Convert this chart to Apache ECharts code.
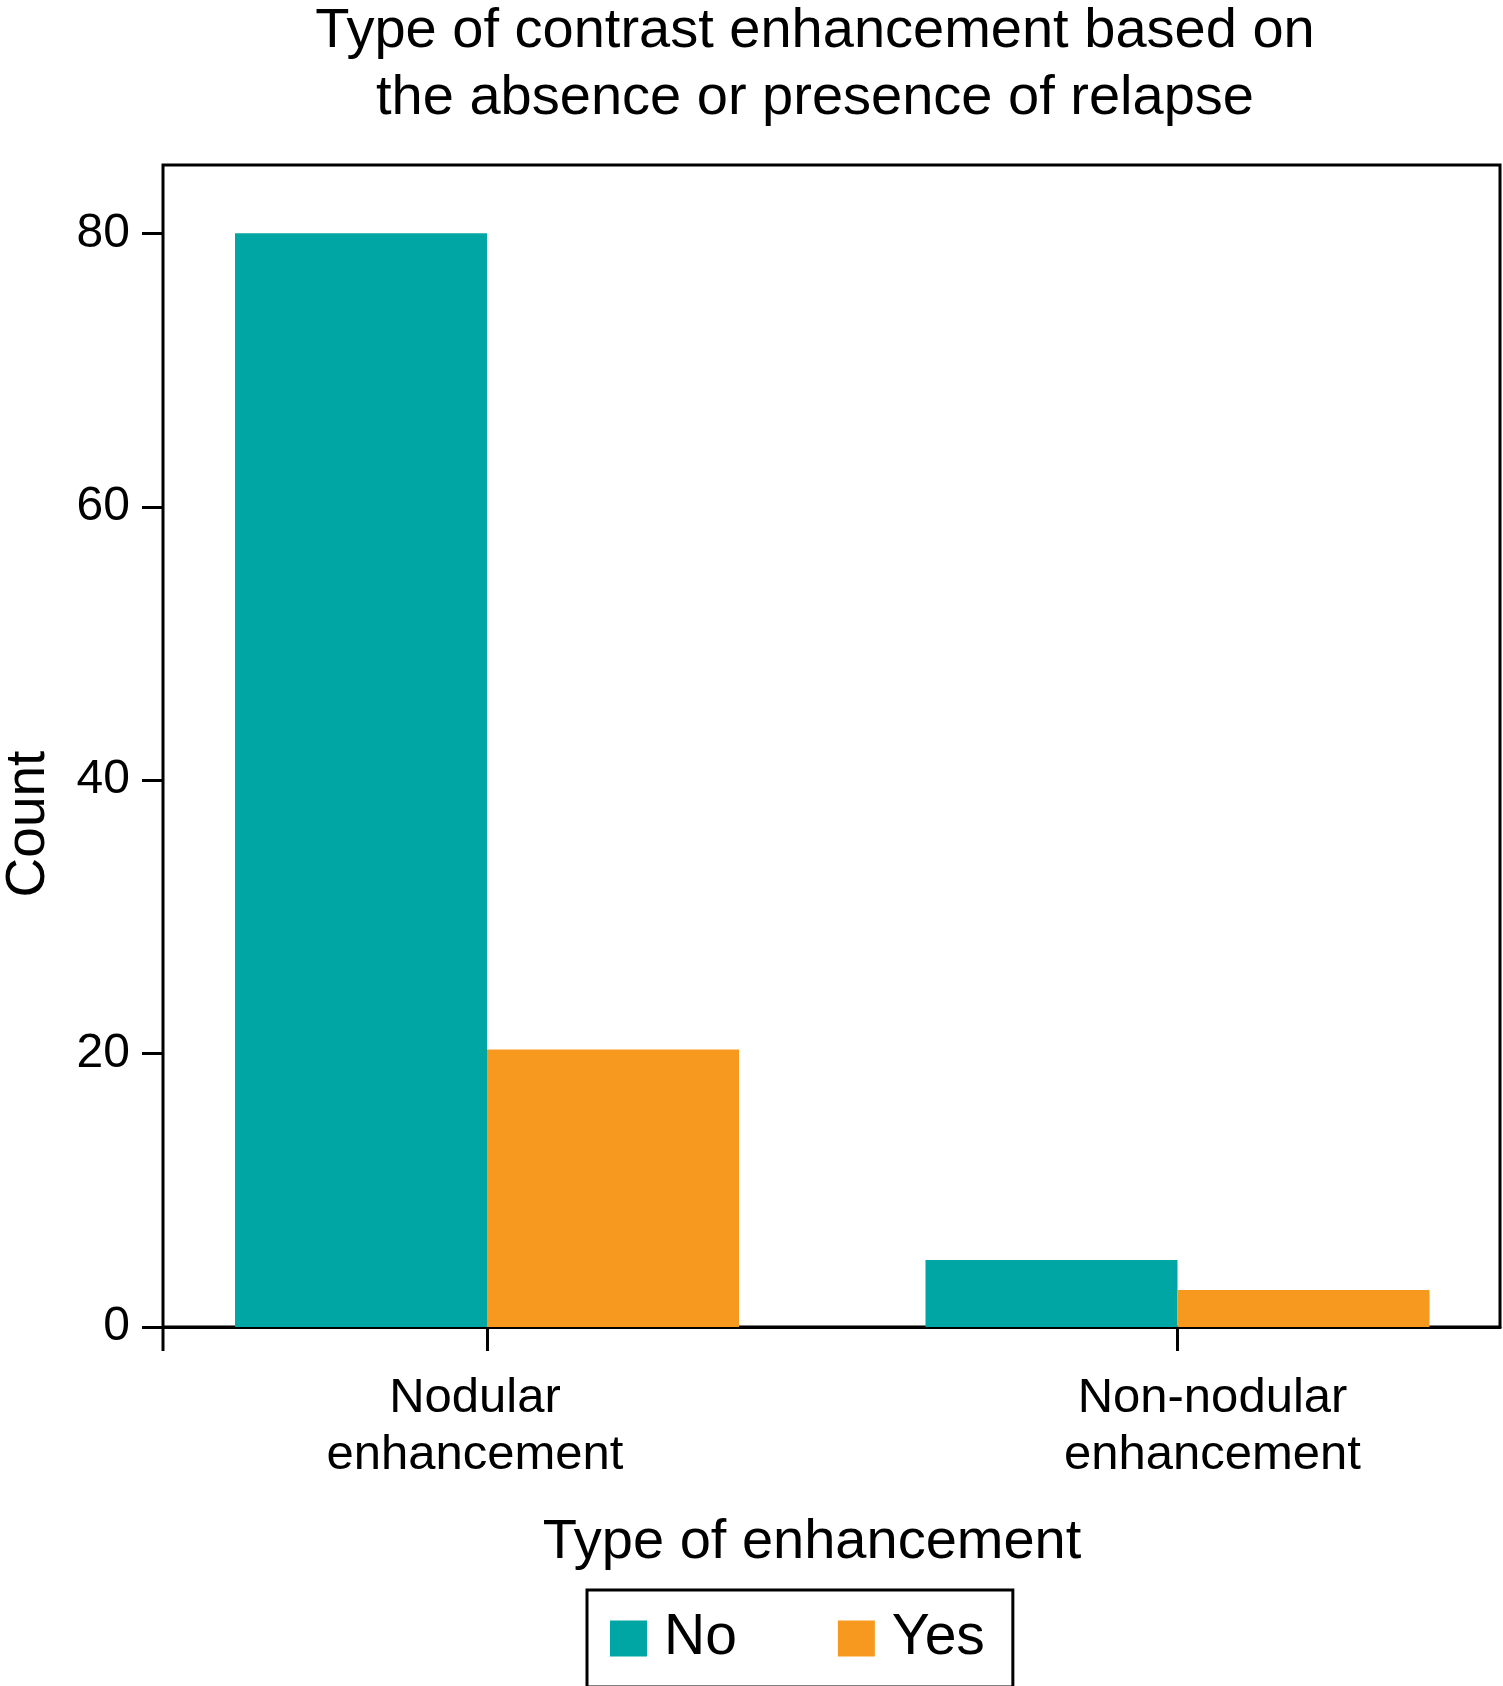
<!DOCTYPE html>
<html>
<head>
<meta charset="utf-8">
<script src="https://cdn.jsdelivr.net/npm/echarts@6/dist/echarts.min.js"></script>
<style>
html,body{margin:0;padding:0;background:#fff;}
#chart{width:1503px;height:1686px;}
</style>
</head>
<body>
<div id="chart"></div>
<script>
const categories = ['Nodular\nenhancement', 'Non-nodular\nenhancement'];
const seriesNames = ['No', 'Yes'];
const noValues = [80, 4.9];
const yesValues = [20.3, 2.7];
const yTicks = [0, 20, 40, 60, 80];
const titleLines = ['Type of contrast enhancement based on', 'the absence or presence of relapse'];
const xAxisTitle = 'Type of enhancement';
const yAxisTitle = 'Count';

const FONT = "'Liberation Sans', Arial, Helvetica, sans-serif";
const colors = ['#00A6A4', '#F7991F'];

const chart = echarts.init(document.getElementById('chart'), null, {renderer: 'canvas'});

const labelRich = {
  c0: {fontSize: 49, lineHeight: 57, color: '#000', fontFamily: FONT, padding: [0, 24, 0, 0]},
  c1: {fontSize: 49, lineHeight: 57, color: '#000', fontFamily: FONT, padding: [0, 0, 0, 70]}
};

const option = {
  backgroundColor: '#ffffff',
  animation: false,
  textStyle: {fontFamily: FONT, color: '#000'},
  color: colors,
  grid: [
    { // frame
      left: 163, right: 3, top: 165, bottom: 359,
      outerBoundsMode: 'none', containLabel: false,
      show: true, borderColor: '#000', borderWidth: 3, backgroundColor: 'transparent'
    },
    { // bars
      left: 141.75, width: 1381, top: 165, bottom: 359,
      outerBoundsMode: 'none', containLabel: false,
      show: false
    }
  ],
  xAxis: [
    {
      gridIndex: 0, type: 'category', data: categories,
      axisLine: {show: true, lineStyle: {color: '#000', width: 3}},
      axisTick: {show: false}, axisLabel: {show: false}, splitLine: {show: false}
    },
    {
      gridIndex: 1, type: 'category', data: categories,
      axisLine: {show: false},
      axisTick: {show: true, alignWithLabel: true, length: 24, lineStyle: {color: '#000', width: 3}},
      axisLabel: {
        margin: 43, color: '#000', fontFamily: FONT, fontSize: 49, lineHeight: 57,
        formatter: (v, i) => '{c' + i + '|' + v + '}',
        rich: labelRich
      },
      splitLine: {show: false}
    }
  ],
  yAxis: [
    {
      gridIndex: 0, type: 'value', min: 0, max: 85,
      axisLine: {show: false},
      axisTick: {show: true, length: 21, customValues: yTicks, lineStyle: {color: '#000', width: 3}},
      axisLabel: {fontSize: 48, margin: 33, color: '#000', fontFamily: FONT, customValues: yTicks},
      splitLine: {show: false}
    },
    {
      gridIndex: 1, type: 'value', min: 0, max: 85,
      axisLine: {show: false}, axisTick: {show: false}, axisLabel: {show: false}, splitLine: {show: false}
    }
  ],
  legend: {
    data: seriesNames,
    left: 587, top: 1590,
    orient: 'horizontal',
    icon: 'rect',
    itemWidth: 37, itemHeight: 36, itemGap: 101,
    padding: [20, 28, 20, 23],
    borderColor: '#000', borderWidth: 3,
    textStyle: {fontSize: 57, color: '#000', fontFamily: FONT, padding: [0, 0, 0, 12]}
  },
  series: [
    {name: seriesNames[0], type: 'bar', xAxisIndex: 1, yAxisIndex: 1, data: noValues,
     barWidth: 252, barGap: '0%', itemStyle: {color: colors[0]}},
    {name: seriesNames[1], type: 'bar', xAxisIndex: 1, yAxisIndex: 1, data: yesValues,
     barWidth: 252, barGap: '0%', itemStyle: {color: colors[1]}}
  ],
  graphic: [
    {type: 'text', x: 815, y: 32, style: {text: titleLines[0], font: '56px ' + FONT, fill: '#000', textAlign: 'center', textVerticalAlign: 'middle'}},
    {type: 'text', x: 815, y: 99, style: {text: titleLines[1], font: '56px ' + FONT, fill: '#000', textAlign: 'center', textVerticalAlign: 'middle'}},
    {type: 'text', x: 812, y: 1543, style: {text: xAxisTitle, font: '56px ' + FONT, fill: '#000', textAlign: 'center', textVerticalAlign: 'middle'}},
    {type: 'text', x: 29, y: 824, rotation: Math.PI / 2, style: {text: yAxisTitle, font: '55px ' + FONT, fill: '#000', textAlign: 'center', textVerticalAlign: 'middle'}},
    {type: 'line', shape: {x1: 163, y1: 1326, x2: 163, y2: 1351}, style: {stroke: '#000', lineWidth: 3}}
  ]
};
chart.setOption(option);
</script>
</body>
</html>
